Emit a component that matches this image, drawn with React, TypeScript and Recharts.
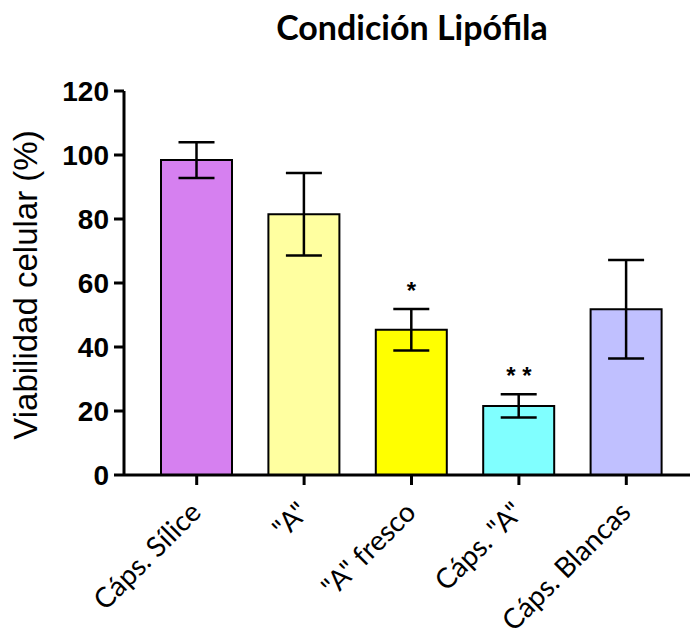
import React from 'react';
import { ComposedChart, Bar, Cell, XAxis, YAxis, ErrorBar, Scatter } from 'recharts';

const categories = ['Cáps. Sílice', '"A"', '"A" fresco', 'Cáps. "A"', 'Cáps. Blancas'];
const viability = [98.4, 81.5, 45.4, 21.6, 51.8];
const sd = [5.6, 12.9, 6.5, 3.6, 15.4];
const significance = ['', '', '*', '* *', ''];
const barColors = ['#d680f0', '#ffffa0', '#ffff00', '#80ffff', '#c0c0ff'];
const yTicks = [0, 20, 40, 60, 80, 100, 120];

const data = categories.map((name, i) => ({
  name,
  value: viability[i],
  err: sd[i],
  sig: significance[i],
  sigY: significance[i] ? viability[i] + sd[i] : undefined,
}));

const XTick = (props: any) => {
  const { x, y, payload } = props;
  const ax = x + 6;
  const ay = y + 27;
  return (
    <text
      x={ax}
      y={ay}
      transform={`rotate(-45, ${ax}, ${ay})`}
      textAnchor="end"
      fill="#000"
      fontSize={28}
      fontFamily="Lato, 'Open Sans', sans-serif"
    >
      {payload.value}
    </text>
  );
};

const YLabel = () => (
  <text
    x={37}
    y={285}
    transform="rotate(-90, 37, 285)"
    textAnchor="middle"
    fill="#000"
    fontSize={33}
    fontFamily="'Liberation Sans', Arial, sans-serif"
  >
    Viabilidad celular (%)
  </text>
);

const SigShape = (props: any) => {
  const { cx, cy, payload } = props;
  if (!payload || !payload.sig || cy == null || isNaN(cy)) return <g />;
  return (
    <text
      x={cx}
      y={cy - 10}
      textAnchor="middle"
      fill="#000"
      fontSize={24}
      fontWeight="bold"
      fontFamily="'Liberation Sans', Arial, sans-serif"
    >
      {payload.sig}
    </text>
  );
};

export default function App() {
  return (
    <div style={{ position: 'absolute', left: 0, top: 0, width: 690, height: 644, background: '#fff' }}>
      <div
        style={{
          position: 'absolute',
          left: 212,
          top: 10,
          width: 400,
          textAlign: 'center',
          fontFamily: "Lato, 'Open Sans', sans-serif",
          fontWeight: 'bold',
          fontSize: 34,
          lineHeight: '34px',
          color: '#000',
        }}
      >
        Condición Lipófila
      </div>
      <ComposedChart
        width={690}
        height={644}
        data={data}
        margin={{ top: 91, right: 0, bottom: 0, left: 0 }}
      >
        <XAxis
          dataKey="name"
          type="category"
          height={169}
          padding={{ left: 19, right: 10 }}
          axisLine={{ stroke: '#000', strokeWidth: 3 }}
          tickLine={{ stroke: '#000', strokeWidth: 3 }}
          tickSize={10}
          tick={<XTick />}
          interval={0}
        />
        <YAxis
          type="number"
          domain={[0, 120]}
          ticks={yTicks}
          width={124}
          axisLine={{ stroke: '#000', strokeWidth: 3 }}
          tickLine={{ stroke: '#000', strokeWidth: 3 }}
          tickSize={10}
          tickMargin={5}
          tick={{ fill: '#000', fontSize: 28, fontWeight: 'bold', fontFamily: "'Liberation Sans', Arial, sans-serif" }}
          label={<YLabel />}
        />
        <Bar dataKey="value" barSize={71} stroke="#000" strokeWidth={2} isAnimationActive={false}>
          {data.map((d, i) => (
            <Cell key={d.name} fill={barColors[i]} />
          ))}
          <ErrorBar dataKey="err" width={18} stroke="#000" strokeWidth={2.5} direction="y" />
        </Bar>
        <Scatter dataKey="sigY" shape={<SigShape />} isAnimationActive={false} />
      </ComposedChart>
    </div>
  );
}
